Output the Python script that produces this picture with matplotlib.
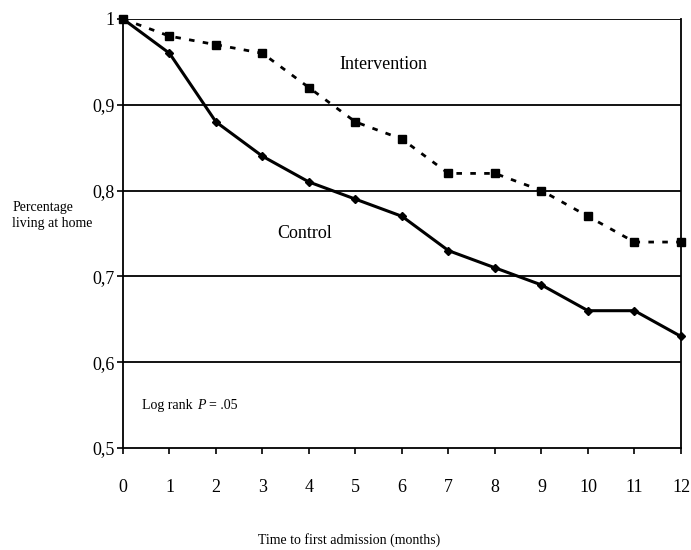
import numpy as np
import matplotlib
matplotlib.use('Agg')
import matplotlib.pyplot as plt

plt.rcParams['font.family'] = ['Liberation Serif', 'DejaVu Serif']

# months since randomisation
months = list(range(13))
control = [1.00, 0.96, 0.88, 0.84, 0.81, 0.79, 0.77, 0.73, 0.71, 0.69, 0.66, 0.66, 0.63]
intervention = [1.00, 0.98, 0.97, 0.96, 0.92, 0.88, 0.86, 0.82, 0.82, 0.80, 0.77, 0.74, 0.74]
y_ticks = [0.5, 0.6, 0.7, 0.8, 0.9, 1.0]
y_labels = ['0,5', '0,6', '0,7', '0,8', '0,9', '1']

fig = plt.figure(figsize=(6.91, 5.5), dpi=100)
ax = fig.add_axes([0.178, 0.1855, 0.8075, 0.78])

for y in y_ticks[1:]:
    ax.axhline(y, color='black', lw=1.3, zorder=1)

ax.plot(months, intervention, color='black', lw=2, ls=(0, (2, 3)),
        marker='s', ms=6, mfc='black', mec='black', zorder=3, clip_on=False)
ax.plot(months, control, color='black', lw=2.2,
        marker='D', ms=4, mfc='black', mec='black', zorder=3, clip_on=False)

ax.set_xlim(0, 12)
ax.set_ylim(0.5, 1.0)
ax.set_xticks(months)
ax.set_yticks(y_ticks)
ax.set_yticklabels(y_labels)
ax.tick_params(axis='x', direction='out', length=4, width=1.2, pad=18, labelsize=13)
ax.tick_params(axis='y', direction='out', length=4, width=1.2, pad=2, labelsize=13)
for s in ax.spines.values():
    s.set_linewidth(1.3)
ax.spines['top'].set_visible(False)

ax.text(4.65, 0.942, 'Intervention', fontsize=13)
ax.text(3.31, 0.745, 'Control', fontsize=13)
ax.text(0.4, 0.545, 'Log rank', fontsize=10)
ax.text(1.6, 0.545, 'P', fontsize=10, fontstyle='italic')
ax.text(1.86, 0.545, '= .05', fontsize=10)

fig.text(0.018, 0.609, 'Percentage\nliving at home', fontsize=10, va='center', linespacing=1.3)
fig.text(0.505, 0.012, 'Time to first admission (months)', fontsize=10, ha='center')

fig.savefig('out.png', dpi=100)
